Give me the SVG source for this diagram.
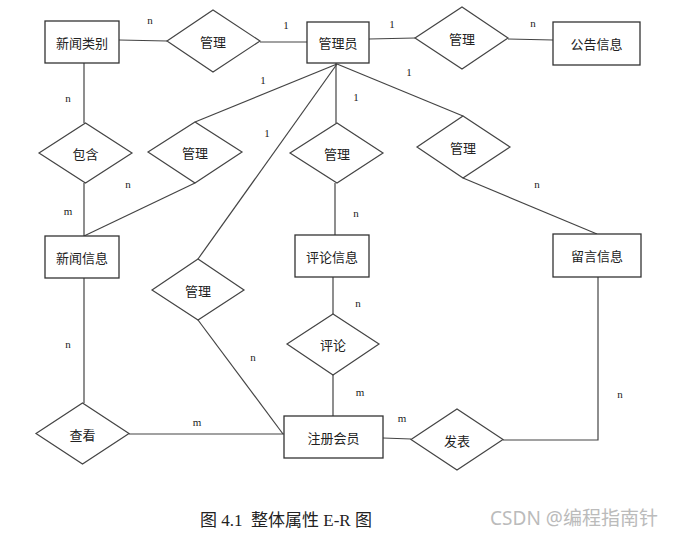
<svg xmlns="http://www.w3.org/2000/svg" width="679" height="543" viewBox="0 0 679 543">
<style>
.ent{fill:#fff;stroke:#333;stroke-width:1.3}
.rel{fill:#fff;stroke:#444;stroke-width:1.2}
.lbl{font-family:"Noto Sans CJK SC","Noto Sans",sans-serif;font-size:13px;fill:#222;text-anchor:middle;dominant-baseline:central}
.card{font-family:"Liberation Serif","DejaVu Serif",serif;font-size:11px;fill:#222;text-anchor:middle;dominant-baseline:central}
#connectors line,#connectors polyline{stroke:#444;stroke-width:1.2;fill:none}
</style>
<rect width="679" height="543" fill="#fff"/>
<g id="connectors">
<line x1="119" y1="40" x2="167" y2="41"/>
<line x1="260" y1="42" x2="307" y2="42"/>
<line x1="369" y1="39" x2="415" y2="38"/>
<line x1="508" y1="39" x2="553" y2="40"/>
<line x1="84" y1="63" x2="84" y2="123"/>
<line x1="84" y1="183" x2="84" y2="236"/>
<line x1="84" y1="278" x2="84" y2="403"/>
<line x1="337" y1="64" x2="195" y2="122"/>
<line x1="195" y1="183" x2="84" y2="236"/>
<line x1="337" y1="64" x2="198" y2="259"/>
<line x1="198" y1="320" x2="283" y2="434"/>
<line x1="336" y1="63" x2="336" y2="123"/>
<line x1="335" y1="183" x2="335" y2="235"/>
<line x1="337" y1="64" x2="463" y2="116"/>
<line x1="463" y1="178" x2="597" y2="234"/>
<line x1="333" y1="277" x2="333" y2="314"/>
<line x1="333" y1="375" x2="333" y2="416"/>
<line x1="129" y1="434" x2="284" y2="434"/>
<line x1="383" y1="438" x2="411" y2="439"/>
<polyline points="503,440 598,440 598,277"/>
</g>
<g id="e-xwlb"><rect class="ent" x="45" y="21" width="74" height="42"/><text class="lbl" x="82" y="42">新闻类别</text></g>
<g id="e-gly"><rect class="ent" x="307" y="22" width="62" height="41"/><text class="lbl" x="338" y="42.5">管理员</text></g>
<g id="e-ggxx"><rect class="ent" x="553" y="22" width="87" height="43"/><text class="lbl" x="596.5" y="43.5">公告信息</text></g>
<g id="e-xwxx"><rect class="ent" x="45" y="236" width="74" height="42"/><text class="lbl" x="82" y="257">新闻信息</text></g>
<g id="e-plxx"><rect class="ent" x="295" y="235" width="74" height="42"/><text class="lbl" x="332" y="256">评论信息</text></g>
<g id="e-lyxx"><rect class="ent" x="553" y="234" width="88" height="43"/><text class="lbl" x="597" y="255.5">留言信息</text></g>
<g id="e-zchy"><rect class="ent" x="284" y="416" width="99" height="42"/><text class="lbl" x="333.5" y="437">注册会员</text></g>
<g id="r1"><polygon class="rel" points="167,41 213,10 260,41 213,72"/><text class="lbl" x="213" y="41">管理</text></g>
<g id="r2"><polygon class="rel" points="415,38 462,7 508,38 462,69"/><text class="lbl" x="462" y="38">管理</text></g>
<g id="r3"><polygon class="rel" points="39,153 85.5,123 132,153 85.5,183"/><text class="lbl" x="85.5" y="153">包含</text></g>
<g id="r4"><polygon class="rel" points="148,152 195,122 242,152 195,183"/><text class="lbl" x="195" y="152">管理</text></g>
<g id="r5"><polygon class="rel" points="290,153 337,123 383,153 337,183"/><text class="lbl" x="337" y="153">管理</text></g>
<g id="r6"><polygon class="rel" points="417,147 463,116 510,147 463,178"/><text class="lbl" x="463" y="147">管理</text></g>
<g id="r7"><polygon class="rel" points="152,290 198,259 244,290 198,320"/><text class="lbl" x="198" y="290">管理</text></g>
<g id="r8"><polygon class="rel" points="287,344 333,314 379,344 333,375"/><text class="lbl" x="333" y="344">评论</text></g>
<g id="r9"><polygon class="rel" points="36,433.5 82.5,403 129,433.5 82.5,464"/><text class="lbl" x="82.5" y="434">查看</text></g>
<g id="r10"><polygon class="rel" points="411,439.5 457,409 503,439.5 457,470"/><text class="lbl" x="457" y="440">发表</text></g>
<g id="cards">
<text class="card" x="150" y="20">n</text>
<text class="card" x="286" y="25">1</text>
<text class="card" x="392" y="24">1</text>
<text class="card" x="533" y="23">n</text>
<text class="card" x="68" y="98">n</text>
<text class="card" x="263" y="80">1</text>
<text class="card" x="267" y="133">1</text>
<text class="card" x="128" y="184">n</text>
<text class="card" x="68" y="211">m</text>
<text class="card" x="409" y="72">1</text>
<text class="card" x="356" y="97">1</text>
<text class="card" x="537" y="184">n</text>
<text class="card" x="356" y="213">n</text>
<text class="card" x="358" y="303">n</text>
<text class="card" x="253" y="357">n</text>
<text class="card" x="68" y="344">n</text>
<text class="card" x="197" y="422">m</text>
<text class="card" x="360" y="392">m</text>
<text class="card" x="402" y="418">m</text>
<text class="card" x="620" y="394">n</text>
</g>
<text x="286" y="520" font-family="'Liberation Serif','Noto Sans CJK SC',serif" font-size="17" fill="#222" text-anchor="middle" dominant-baseline="central" xml:space="preserve" style="white-space:pre">图 4.1  整体属性 E-R 图</text>
<text x="574" y="518" font-family="'Noto Sans','Noto Sans CJK SC',sans-serif" font-size="19" fill="#bbb" text-anchor="middle" dominant-baseline="central">CSDN @编程指南针</text>
</svg>
